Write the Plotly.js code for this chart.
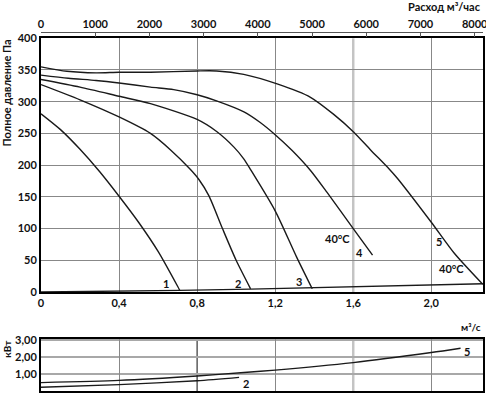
<!DOCTYPE html>
<html>
<head>
<meta charset="utf-8">
<script src="https://cdn.plot.ly/plotly-3.0.1.min.js"></script>
<style>html,body{margin:0;padding:0;background:#fff;}#chart{width:486px;height:395px;}</style>
</head>
<body>
<div id="chart"></div>
<script>
// Pressure curves (flow m³/s, pressure Pa)
const c1Flow = [0, 0.1, 0.2, 0.3, 0.4, 0.5, 0.6, 0.7, 0.712];
const c1Pres = [281, 256, 225, 190, 151, 110, 64, 9, 2];
const c2Flow = [0, 0.2, 0.4, 0.561, 0.664, 0.766, 0.81, 0.86, 0.93, 1.0, 1.074];
const c2Pres = [327, 303, 276, 250, 224, 193, 177, 152, 100, 50, 5];
const c3Flow = [0, 0.2, 0.4, 0.561, 0.8, 0.9, 0.99, 1.039, 1.074, 1.2, 1.31, 1.39];
const c3Pres = [335, 323, 308.6, 297, 272, 253, 228, 210, 193, 128, 55, 5];
const c4Flow = [0, 0.14, 0.282, 0.4, 0.561, 0.68, 0.8, 0.903, 1.04, 1.12, 1.2, 1.287, 1.38, 1.466, 1.6, 1.699];
const c4Pres = [342, 337, 333.5, 329.5, 323, 319, 311, 301, 284, 268, 248, 223, 192, 157, 100, 58];
const c5Flow = [0, 0.133, 0.282, 0.4, 0.561, 0.8, 0.9, 1.039, 1.21, 1.381, 1.5, 1.603, 1.689, 1.784, 1.827, 2.0, 2.118, 2.264];
const c5Pres = [355, 348, 345.5, 346.5, 346.5, 348.5, 348.5, 343, 328, 307, 280, 252, 224, 194, 179, 110, 61, 12];
const baseFlow = [0, 0.4, 0.71, 1.074, 1.39, 1.8, 2.264];
const basePres = [0, 1, 2.5, 4.5, 6.5, 9.5, 13];
// Power curves (flow m³/s, kW)
const p5Flow = [0, 0.4, 0.8, 1.04, 1.2, 1.6, 2.0, 2.15];
const p5Pow = [0.49, 0.62, 0.88, 1.08, 1.22, 1.66, 2.25, 2.5];
const p2Flow = [0, 0.4, 0.8, 1.015];
const p2Pow = [0.22, 0.37, 0.6, 0.8];
// Ticks
const flowTicks = [0, 0.4, 0.8, 1.2, 1.6, 2.0];
const flowTickText = ["0", "0,4", "0,8", "1,2", "1,6", "2,0"];
const flowGridTop = [0.4, 0.8, 1.2, 2.0];
const flowGridBottom = [0.4, 1.2, 2.0];
const hourTicks = [0, 1000, 2000, 3000, 4000, 5000, 6000, 7000, 8000];
const presTicks = [0, 50, 100, 150, 200, 250, 300, 350, 400];
const powTicks = [0, 1, 2, 3];
const powTickText = ["0", "1,00", "2,00", "3,00"];
// Curve labels
const presLabels = ["1", "2", "3", "4", "40°C", "5", "40°C"];
const presLabelX = [0.638, 1.009, 1.322, 1.630, 1.52, 2.041, 2.101];
const presLabelY = [13.4, 13.4, 16, 63, 84, 80, 37];
const powLabels = ["5", "2"];
const powLabelX = [2.182, 1.049];
const powLabelY = [2.29, 0.44];

const XMAX = 2.265;
const lineStyle = {color: '#1a1a1a', width: 1.4, shape: 'spline', smoothing: 0.7};
const F = 'Lato, "Open Sans", sans-serif';
const tf = {family: F, size: 11, weight: 'bold', color: '#111'};

const traces = [];
[[c1Flow,c1Pres],[c2Flow,c2Pres],[c3Flow,c3Pres],[c4Flow,c4Pres],[c5Flow,c5Pres]].forEach(([x,y]) => {
  traces.push({x: x, y: y, type: 'scatter', mode: 'lines', line: lineStyle, xaxis: 'x', yaxis: 'y', hoverinfo: 'skip', showlegend: false});
});
traces.push({x: baseFlow, y: basePres, type: 'scatter', mode: 'lines', line: {color: '#1a1a1a', width: 1.4}, xaxis: 'x', yaxis: 'y', hoverinfo: 'skip', showlegend: false});
// invisible traces to activate helper axes (top m³/h axis and grid axes)
traces.push({x: c5Flow.map(v => v * 3600), y: c5Pres, type: 'scatter', mode: 'lines', opacity: 0, line: {width: 0}, xaxis: 'x2', yaxis: 'y', hoverinfo: 'skip', showlegend: false});
traces.push({x: c5Flow, y: c5Pres, type: 'scatter', mode: 'lines', opacity: 0, line: {width: 0}, xaxis: 'x4', yaxis: 'y', hoverinfo: 'skip', showlegend: false});
traces.push({x: p5Flow, y: p5Pow, type: 'scatter', mode: 'lines', opacity: 0, line: {width: 0}, xaxis: 'x5', yaxis: 'y3', hoverinfo: 'skip', showlegend: false});
[[p5Flow,p5Pow],[p2Flow,p2Pow]].forEach(([x,y]) => {
  traces.push({x: x, y: y, type: 'scatter', mode: 'lines', line: lineStyle, xaxis: 'x3', yaxis: 'y3', hoverinfo: 'skip', showlegend: false});
});

const annotations = [];
presLabels.forEach((t, i) => annotations.push({text: t, x: presLabelX[i], y: presLabelY[i], xref: 'x', yref: 'y', showarrow: false, font: {family: F, size: 11, weight: 'bold', color: '#111'}}));
powLabels.forEach((t, i) => annotations.push({text: t, x: powLabelX[i], y: powLabelY[i], xref: 'x3', yref: 'y3', showarrow: false, font: {family: F, size: 11, weight: 'bold', color: '#111'}}));
annotations.push({text: 'Полное давление Па', textangle: -90, xref: 'paper', yref: 'paper', x: -0.0769, y: 0.983, xanchor: 'center', yanchor: 'top', showarrow: false, font: {family: F, size: 11, weight: 'bold', color: '#111'}});
annotations.push({text: 'кВт', textangle: -90, xref: 'paper', yref: 'paper', x: -0.0769, y: 0.118, xanchor: 'center', yanchor: 'middle', showarrow: false, font: {family: F, size: 10, weight: 'bold', color: '#111'}});
annotations.push({text: 'Расход м³/час', xref: 'paper', yref: 'paper', x: 1, y: 1.072, xanchor: 'right', yanchor: 'middle', showarrow: false, font: {family: F, size: 11, weight: 'bold', color: '#111'}});
annotations.push({text: 'м³/с', xref: 'paper', yref: 'paper', x: 1, y: 0.178, xanchor: 'right', yanchor: 'middle', showarrow: false, font: {family: F, size: 10, weight: 'bold', color: '#111'}});

const shapes = [
  {type: 'line', xref: 'x', yref: 'y domain', x0: 1.6, x1: 1.6, y0: 0, y1: 1, line: {color: '#c4c4c4', width: 2.5}, layer: 'below'},
  {type: 'line', xref: 'x3', yref: 'y3 domain', x0: 1.6, x1: 1.6, y0: 0, y1: 1, line: {color: '#c4c4c4', width: 2.5}, layer: 'below'},
  {type: 'line', xref: 'x3', yref: 'y3 domain', x0: 0.8, x1: 0.8, y0: 0, y1: 1, line: {color: '#333', width: 1.2}, layer: 'below'}
];

const gridAxis = (over, anchor, vals) => ({overlaying: over, anchor: anchor, range: [0, XMAX], tickvals: vals, showticklabels: false,
  showgrid: true, gridcolor: '#888', gridwidth: 1, zeroline: false, showline: false, ticks: ''});

const layout = {
  width: 486, height: 395,
  margin: {l: 41, r: 3, t: 32, b: 4},
  paper_bgcolor: '#fff', plot_bgcolor: '#fff',
  showlegend: false,
  annotations: annotations,
  shapes: shapes,
  xaxis: {domain: [0, 1], anchor: 'y', range: [0, XMAX], tickvals: flowTicks, ticktext: flowTickText, tickfont: tf,
    showgrid: false, zeroline: false, showline: true, linecolor: '#000', linewidth: 2, mirror: true, ticks: ''},
  xaxis2: {overlaying: 'x', side: 'top', anchor: 'free', position: 1, range: [0, XMAX * 3600], tickvals: hourTicks, tickfont: tf,
    ticklabeloverflow: 'allow',
    showgrid: false, zeroline: false, showline: true, linecolor: '#555', linewidth: 1, ticks: 'inside', ticklen: 4, tickcolor: '#555'},
  xaxis4: gridAxis('x', 'y', flowGridTop),
  yaxis: {domain: [0.2758, 0.9825], anchor: 'x', range: [0, 400], tickvals: presTicks, tickfont: tf,
    showgrid: true, gridcolor: '#888', gridwidth: 1, zeroline: false, showline: true, linecolor: '#000', linewidth: 2, mirror: true, ticks: ''},
  xaxis3: {domain: [0, 1], anchor: 'y3', range: [0, XMAX], tickvals: flowTicks, showticklabels: false,
    showgrid: false, zeroline: false, showline: true, linecolor: '#000', linewidth: 2, mirror: true, ticks: ''},
  xaxis5: gridAxis('x3', 'y3', flowGridBottom),
  yaxis3: {domain: [0, 0.1462], anchor: 'x3', range: [0, 3.07], tickvals: powTicks, ticktext: powTickText, tickfont: tf,
    showgrid: true, gridcolor: '#a8a8a8', gridwidth: 2, zeroline: false, showline: true, linecolor: '#000', linewidth: 2, mirror: true, ticks: ''}
};

Plotly.newPlot('chart', traces, layout, {staticPlot: true, displayModeBar: false});
</script>
</body>
</html>
